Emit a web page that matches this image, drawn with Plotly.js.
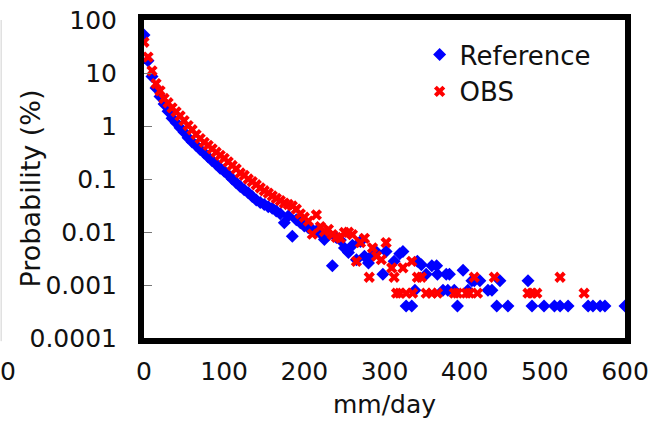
<!DOCTYPE html>
<html>
<head>
<meta charset="utf-8">
<script src="https://cdn.plot.ly/plotly-3.0.1.min.js"></script>
<style>
html,body{margin:0;padding:0;background:#fff;}
#chart{width:653px;height:421px;}
</style>
</head>
<body>
<div id="chart"></div>
<script>
// Reference series (mm/day, probability %)
const refX = [0,5,10,15,20,25,30,35,40,45,50,55,60,65,70,75,80,85,90,95,100,105,110,115,120,125,130,135,140,145,150,155,160,165,170,175,180,185,190,195,200,205,210,215,220,225,230,235,240,245,250,255,260,265,270,275,280,285,290,298,302,312,319,323,327,334,338,341,346,352,359,365,366,373,377,379,381,387,391,398,404,409,412,419,429,434,440,444,454,479,484,499,512,519,529,554,560,569,575,600];
const refY = [52,17,8.6,5.2,3.6,2.6,1.9,1.4,1.15,0.93,0.76,0.6,0.5,0.43,0.36,0.31,0.26,0.22,0.19,0.16,0.14,0.12,0.1,0.085,0.072,0.063,0.055,0.047,0.04,0.036,0.033,0.03,0.028,0.025,0.022,0.015,0.02,0.0083,0.017,0.015,0.013,0.012,0.011,0.0105,0.0095,0.0072,0.0089,0.0023,0.0079,0.0071,0.005,0.0041,0.0056,0.003,0.0066,0.0035,0.0026,0.0037,0.0042,0.0016,0.0043,0.0028,0.0039,0.0043,0.0004,0.0004,0.0008,0.0028,0.0024,0.0016,0.0023,0.0023,0.0016,0.0008,0.0016,0.0008,0.0016,0.0008,0.0004,0.0019,0.0008,0.0012,0.0012,0.0012,0.0008,0.0008,0.0004,0.0012,0.0004,0.0012,0.0004,0.0004,0.0004,0.0004,0.0004,0.0004,0.0004,0.0004,0.0004,0.0004];

// OBS series
const obsX = [0,5,10,15,20,25,30,35,40,45,50,55,60,65,70,75,80,85,90,95,100,105,110,115,120,125,130,135,140,145,150,155,160,165,170,175,180,185,190,195,200,205,210,215,220,225,230,235,240,245,250,255,260,265,270,275,281,285,290,296,302,309,312,315,319,323,327,334,335,341,346,352,359,366,387,391,402,406,412,416,437,479,484,490,519,549];
const obsY = [38,20,11,6.3,4.6,3.3,2.75,2.2,1.85,1.55,1.26,1.02,0.85,0.69,0.58,0.49,0.43,0.37,0.32,0.28,0.245,0.21,0.18,0.155,0.13,0.117,0.1,0.089,0.078,0.068,0.06,0.054,0.048,0.043,0.039,0.035,0.033,0.031,0.027,0.022,0.019,0.016,0.0091,0.021,0.0126,0.0102,0.0112,0.0089,0.0079,0.0077,0.0098,0.0099,0.0089,0.0028,0.0063,0.0076,0.0014,0.005,0.0035,0.003,0.0063,0.0021,0.0014,0.0007,0.0007,0.0021,0.0007,0.0028,0.0007,0.0014,0.0014,0.0007,0.0007,0.0007,0.0007,0.0007,0.0007,0.0007,0.0014,0.0007,0.0014,0.0007,0.0007,0.0007,0.0014,0.0007];

const yTickVals = [0.0001,0.001,0.01,0.1,1,10,100];
const yTickText = ["0.0001","0.001","0.01","0.1","1","10","100"];
const xTickVals = [0,100,200,300,400,500,600];

const FONT = "DejaVu Sans, Arial, sans-serif";

const traces = [
  {x: refX, y: refY, name: "Reference", type: "scatter", mode: "markers",
   marker: {symbol: "diamond", size: 10, color: "#0000ff", line: {width: 0}}, cliponaxis: true},
  {x: obsX, y: obsY, name: "OBS", type: "scatter", mode: "markers",
   marker: {symbol: "x", size: 10, color: "#ff0000", line: {width: 0}}, cliponaxis: true}
];

const layout = {
  width: 653, height: 421,
  margin: {l: 144, r: 28, t: 20, b: 83},
  paper_bgcolor: "#ffffff", plot_bgcolor: "#ffffff",
  font: {family: FONT, size: 25, color: "#111"},
  showlegend: true,
  legend: {x: 0.573, y: 0.965, xanchor: "left", yanchor: "top",
           bgcolor: "rgba(0,0,0,0)", font: {family: FONT, size: 26, color: "#111"},
           itemwidth: 30, tracegroupgap: 0},
  xaxis: {range: [0, 600], tickvals: xTickVals, showgrid: false, zeroline: false,
          showline: true, mirror: true, linewidth: 6, linecolor: "#000",
          ticks: "", ticklabelstandoff: 6,
          tickfont: {family: FONT, size: 25, color: "#111"},
          title: {text: "mm/day", font: {family: FONT, size: 25, color: "#111"}, standoff: 12}},
  yaxis: {type: "log", range: [-4, 2], tickvals: yTickVals, ticktext: yTickText,
          showgrid: false, zeroline: false,
          showline: true, mirror: true, linewidth: 6, linecolor: "#000",
          ticks: "inside", ticklen: 8, tickwidth: 1, tickcolor: "#777",
          ticklabelstandoff: 16,
          tickfont: {family: FONT, size: 25, color: "#111"}},
  annotations: [
    {text: "Probability (%)", xref: "paper", yref: "paper", x: -0.235, y: 0.47,
     xanchor: "center", yanchor: "middle", textangle: -90, showarrow: false,
     font: {family: FONT, size: 27, color: "#111"}},
    {text: "0", xref: "paper", yref: "paper", x: -0.283, y: -0.105,
     xanchor: "center", yanchor: "middle", showarrow: false,
     font: {family: FONT, size: 25, color: "#111"}}
  ],
  shapes: [
    {type: "line", xref: "paper", yref: "paper", x0: -0.297, x1: -0.297, y0: 1.0, y1: -0.01,
     line: {color: "#d0d0d0", width: 1}}
  ]
};

Plotly.newPlot("chart", traces, layout, {displayModeBar: false, staticPlot: true});
</script>
</body>
</html>
